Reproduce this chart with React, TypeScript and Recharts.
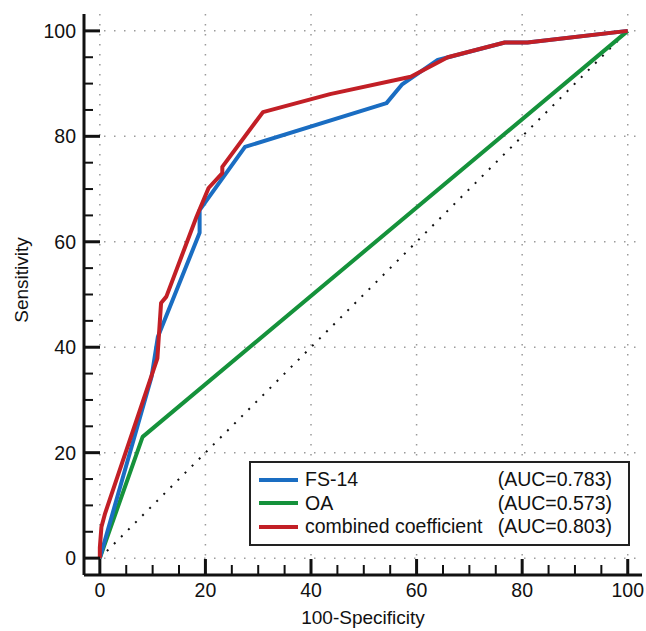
import { CartesianGrid, Legend, Line, LineChart, ReferenceLine, XAxis, YAxis } from "recharts";

// ROC points: 100-specificity (x) vs sensitivity (y)
const fs14Fpr = [0, 9.8, 11, 18.9, 18.9, 27.5, 54.3, 57.2, 64, 66, 76.7, 81, 100];
const fs14Sens = [0, 34.4, 42, 61.7, 66, 78, 86.3, 89.8, 94.5, 95, 97.8, 97.8, 100];

const oaFpr = [0, 8.1, 100];
const oaSens = [0, 23, 100];

const combFpr = [0, 0, 0.3, 1, 10.9, 11.6, 12.6, 18.3, 20.6, 23.2, 23.2, 30.9, 43.6, 58.9, 65.9, 76.7, 81, 100];
const combSens = [0, 2, 5.9, 8.5, 37.9, 48.4, 49.6, 64.7, 70.2, 73, 74.2, 84.6, 88, 91.3, 95, 97.8, 97.8, 100];

const majorTicks = [0, 20, 40, 60, 80, 100];
const allTicks = [0, 5, 10, 15, 20, 25, 30, 35, 40, 45, 50, 55, 60, 65, 70, 75, 80, 85, 90, 95, 100];

const series = [
  { name: "FS-14", auc: "(AUC=0.783)", color: "#1a6dc2", fpr: fs14Fpr, sens: fs14Sens },
  { name: "OA", auc: "(AUC=0.573)", color: "#15923b", fpr: oaFpr, sens: oaSens },
  { name: "combined coefficient", auc: "(AUC=0.803)", color: "#c21f26", fpr: combFpr, sens: combSens },
];

const toPoints = (xs: number[], ys: number[]) => xs.map((x, i) => ({ fpr: x, sens: ys[i] }));

const FONT = "'Liberation Sans', Arial, sans-serif";

function XTick(props: any) {
  const { x, y, payload } = props;
  const major = payload.value % 20 === 0;
  return (
    <g>
      <line x1={x} x2={x} y1={y} y2={y - (major ? 16 : 10)} stroke="#111" strokeWidth={major ? 3 : 2} />
      {major && (
        <text x={x} y={y + 22} textAnchor="middle" fontSize={19.5} fontFamily={FONT} fill="#111">
          {payload.value}
        </text>
      )}
    </g>
  );
}

function YTick(props: any) {
  const { x, y, payload } = props;
  const major = payload.value % 20 === 0;
  return (
    <g>
      <line x1={x} x2={x + (major ? 16 : 9)} y1={y} y2={y} stroke="#111" strokeWidth={major ? 3 : 2} />
      {major && (
        <text x={x - 8} y={y + 7} textAnchor="end" fontSize={19.5} fontFamily={FONT} fill="#111">
          {payload.value}
        </text>
      )}
    </g>
  );
}

function LegendBox() {
  return (
    <div
      style={{
        border: "2.5px solid #222",
        background: "#fff",
        width: 381,
        height: 85,
        boxSizing: "border-box",
        padding: "5px 16px 0 8px",
        fontFamily: FONT,
        fontSize: 19.5,
        color: "#111",
        lineHeight: "23.5px",
      }}
    >
      {series.map((s) => (
        <div key={s.name} style={{ display: "flex", alignItems: "center" }}>
          <span style={{ display: "inline-block", width: 39, height: 4, background: s.color, marginRight: 7 }} />
          <span style={{ flex: 1 }}>{s.name}</span>
          <span>{s.auc}</span>
        </div>
      ))}
    </div>
  );
}

export default function App() {
  return (
    <div style={{ position: "absolute", left: 0, top: 0, background: "#fff" }}>
      <LineChart width={646} height={631} margin={{ top: 14, right: 4, bottom: 0, left: 0 }}>
        <CartesianGrid
          horizontalValues={majorTicks}
          verticalValues={majorTicks}
          stroke="#9a9a9a"
          strokeWidth={1.5}
          strokeDasharray="1.5 8.5"
        />
        <XAxis
          type="number"
          dataKey="fpr"
          domain={[-3, 102.7]}
          ticks={allTicks}
          interval={0}
          allowDataOverflow
          height={56}
          tickSize={0}
          tickMargin={0}
          tickLine={false}
          tick={<XTick />}
          axisLine={{ stroke: "#111", strokeWidth: 3 }}
          label={() => (
            <text x={363} y={624} textAnchor="middle" fontSize={19} fontFamily={FONT} fill="#111">
              100-Specificity
            </text>
          )}
        />
        <YAxis
          type="number"
          dataKey="sens"
          domain={[-3.2, 103.2]}
          ticks={allTicks}
          interval={0}
          allowDataOverflow
          width={84}
          tickSize={0}
          tickMargin={0}
          tickLine={false}
          tick={<YTick />}
          axisLine={{ stroke: "#111", strokeWidth: 3 }}
          label={() => (
            <text
              x={28}
              y={280}
              transform="rotate(-90 28 280)"
              textAnchor="middle"
              fontSize={19}
              fontFamily={FONT}
              fill="#111"
            >
              Sensitivity
            </text>
          )}
        />
        <ReferenceLine
          segment={[
            { x: 0, y: 0 },
            { x: 100, y: 100 },
          ]}
          stroke="#111"
          strokeWidth={2}
          strokeDasharray="2 8"
        />
        {[series[1], series[0], series[2]].map((s) => (
          <Line
            key={s.name}
            data={toPoints(s.fpr, s.sens)}
            dataKey="sens"
            name={s.name}
            type="linear"
            stroke={s.color}
            strokeWidth={4}
            strokeLinejoin="round"
            dot={false}
            activeDot={false}
            isAnimationActive={false}
          />
        ))}
        <Legend
          layout="vertical"
          align="center"
          verticalAlign="middle"
          wrapperStyle={{ left: 249, top: 461, width: 381, height: 85 }}
          content={() => <LegendBox />}
        />
      </LineChart>
    </div>
  );
}
